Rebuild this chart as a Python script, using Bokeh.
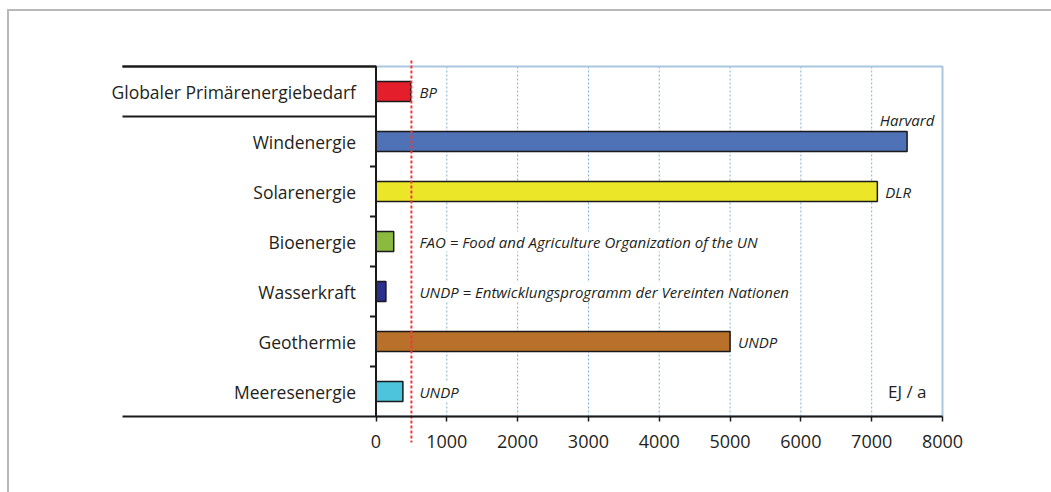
from bokeh.plotting import figure
from bokeh.models import Range1d, FixedTicker, ColumnDataSource
from bokeh.core.properties import value
from bokeh.embed import file_html
from bokeh.resources import INLINE

# ---- data ----
categories = ["Globaler Primärenergiebedarf", "Windenergie", "Solarenergie",
              "Bioenergie", "Wasserkraft", "Geothermie", "Meeresenergie"]
potentials = [490, 7500, 7080, 250, 140, 5000, 380]          # EJ/a
bar_colors = ["#e41f2b", "#4f71b6", "#ece628", "#8cba3f", "#2b2f8e", "#b8702b", "#4ec4dc"]
sources = ["BP", "Harvard", "DLR",
           "FAO = Food and Agriculture Organization of the UN",
           "UNDP = Entwicklungsprogramm der Vereinten Nationen",
           "UNDP", "UNDP"]
demand_line = 500
x_ticks = [0, 1000, 2000, 3000, 4000, 5000, 6000, 7000, 8000]
unit_label = "EJ / a"

# ---- layout constants (pixels -> data) ----
FONT = "Open Sans"
UNITS_PER_PX = x_ticks[-1] / 566.5          # x data units per pixel
X_START = -275.5 * UNITS_PER_PX             # frame left edge (px 100)
X_END = x_ticks[-1] + 29 * UNITS_PER_PX     # frame right edge (px 971)
SEP_START = -253.5 * UNITS_PER_PX           # separator lines begin (px 122)
TOP_PAD = 0.16                               # 8 px above the category block (50 px / row)
BOTTOM_PAD = 1.08                            # 54 px below it (room for tick labels)

n = len(categories)
yc = [i + 0.5 for i in range(n)]

p = figure(width=1051, height=492, output_backend="svg", toolbar_location=None,
           x_range=Range1d(X_START, X_END), y_range=Range1d(n + BOTTOM_PAD, -TOP_PAD),
           y_axis_location=None,
           min_border_left=100, min_border_right=80, min_border_top=58, min_border_bottom=22)
p.outline_line_color = None
p.background_fill_color = None
p.border_fill_color = None
p.styles = {
    "background-color": "white",
    "background-image": "linear-gradient(#b8b8b8, #b8b8b8), linear-gradient(#b8b8b8, #b8b8b8)",
    "background-size": "2px 100%, 100% 2px",
    "background-position": "7px 9px, 7px 9px",
    "background-repeat": "no-repeat",
}
p.grid.visible = False

# vertical grid lines (dashed light blue), only across the category block
grid_x = x_ticks[1:-1]
p.segment(x0=grid_x, x1=grid_x, y0=[0] * len(grid_x), y1=[n] * len(grid_x),
          line_color="#7fb0d2", line_dash="2 2", line_width=1)

# plot area box (light blue)
p.quad(left=[0], right=[x_ticks[-1]], top=[0], bottom=[n], fill_color=None,
       line_color="#a9c7dc", line_width=2)

# bars
src = ColumnDataSource(dict(y=yc, v=potentials, c=bar_colors, cat=categories))
p.hbar(y="y", right="v", left=0, height=0.4, fill_color="c", line_color="#1a1a1a",
       line_width=1.5, source=src)

# demand line (red dashed, slightly longer than the block)
p.segment(x0=[demand_line], x1=[demand_line], y0=[-0.12], y1=[n + 0.52],
          line_color="#ee3a3a", line_dash="3 2", line_width=2)

# separators (left) and baseline
sep_y = [1, n, 0]
sep_right = [0, x_ticks[-1], 0]
p.segment(x0=[SEP_START] * len(sep_y), x1=sep_right, y0=sep_y, y1=sep_y,
          line_color="#1a1a1a", line_width=2)
p.line(x=[SEP_START, 0, 0], y=[0, 0, n], line_color="#1a1a1a", line_width=2)

# small ticks at category boundaries
tick_y = list(range(2, n))
p.segment(x0=[0] * len(tick_y), x1=[-6 * UNITS_PER_PX] * len(tick_y), y0=tick_y, y1=tick_y,
          line_color="#1a1a1a", line_width=2)

# category labels
p.text(x=0, y="y", text="cat", source=src, x_offset=-20, text_align="right",
       text_baseline="middle", text_font=value(FONT), text_font_size="17.5px",
       text_color="#231f20")

# source labels
side_x, side_y, side_t = [], [], []
top_x, top_y, top_t = [], [], []
for i, (v, s) in enumerate(zip(potentials, sources)):
    if s == "Harvard":
        top_x.append(v); top_y.append(yc[i]); top_t.append(s)
    else:
        side_x.append(max(v, demand_line)); side_y.append(yc[i]); side_t.append(s)

p.text(x=side_x, y=side_y, text=side_t, x_offset=8, text_align="left",
       text_baseline="middle", text_font=value(FONT), text_font_style="italic",
       text_font_size="15px", text_color="#231f20", background_fill_color="white")
p.text(x=top_x, y=top_y, text=top_t, y_offset=-22, text_align="center",
       text_baseline="middle", text_font=value(FONT), text_font_style="italic",
       text_font_size="15px", text_color="#231f20", background_fill_color="white")

# unit label
p.text(x=[x_ticks[-1]], y=[yc[-1]], text=[unit_label], x_offset=-16, text_align="right",
       text_baseline="middle", text_font=value(FONT), text_font_size="17px",
       text_color="#231f20")

# x axis, pinned to the bottom of the category block
ax = p.xaxis[0]
ax.fixed_location = n
ax.ticker = FixedTicker(ticks=x_ticks)
ax.axis_line_color = None
ax.major_tick_line_color = "#1a1a1a"
ax.major_tick_line_width = 1.5
ax.major_tick_in = 0
ax.major_tick_out = 5
ax.minor_tick_line_color = None
ax.major_label_text_font = FONT
ax.major_label_text_font_size = "18px"
ax.major_label_text_color = "#231f20"
ax.major_label_standoff = 13

open("out.html", "w").write(file_html(p, INLINE))
